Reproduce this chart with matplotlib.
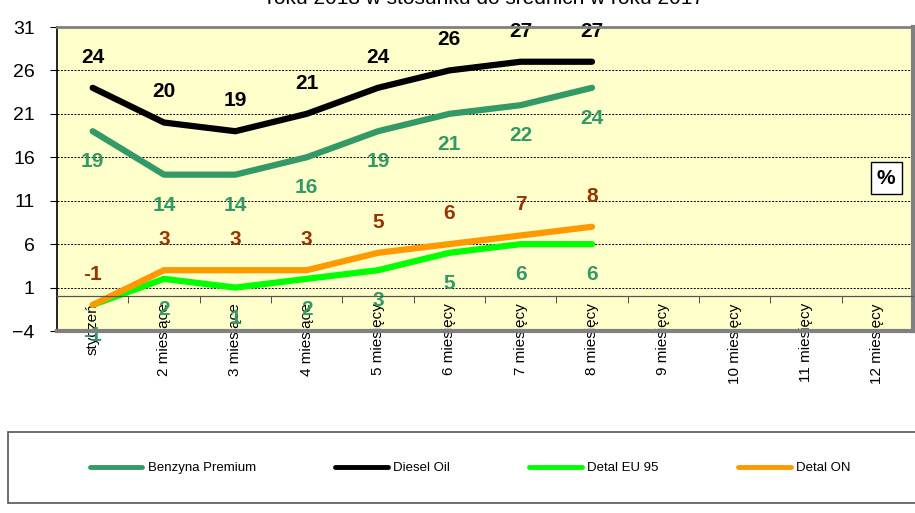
import matplotlib
matplotlib.use("Agg")
import matplotlib.pyplot as plt
from matplotlib.patches import Rectangle

plt.rcParams['font.family'] = ['Liberation Sans', 'DejaVu Sans']

months = ["styczeń", "2 miesiące", "3 miesiące", "4 miesiące", "5 miesięcy", "6 miesięcy",
          "7 miesięcy", "8 miesięcy", "9 miesięcy", "10 miesięcy", "11 miesięcy", "12 miesięcy"]

benzyna_premium = [19, 14, 14, 16, 19, 21, 22, 24]
diesel_oil = [24, 20, 19, 21, 24, 26, 27, 27]
detal_eu95 = [-1, 2, 1, 2, 3, 5, 6, 6]
detal_on = [-1, 3, 3, 3, 5, 6, 7, 8]

y_ticks = [-4, 1, 6, 11, 16, 21, 26, 31]

# name, values, line colour, label colour, label offset (pt)
series = [
    ("Benzyna Premium", benzyna_premium, "#339966", "#339966", -22),
    ("Diesel Oil", diesel_oil, "#000000", "#000000", 22),
    ("Detal EU 95", detal_eu95, "#00FF00", "#339966", -22),
    ("Detal ON", detal_on, "#FF9900", "#993300", 22),
]

fig = plt.figure(figsize=(9.15, 5.13), dpi=100)
ax = fig.add_axes([57/915, 1-331/513, 856/915, 304/513])
ax.set_facecolor("#FFFFCC")

handles = []
for name, vals, col, lcol, off in series:
    x = list(range(len(vals)))
    h, = ax.plot(x, vals, color=col, lw=4.5, solid_joinstyle='round',
                 solid_capstyle='round', label=name, zorder=2)
    handles.append(h)
    for xi, v in zip(x, vals):
        ax.annotate(str(v), (xi, v), xytext=(0, off), textcoords='offset points',
                    ha='center', va='center', fontsize=15, fontweight='bold',
                    color=lcol, zorder=2.2, annotation_clip=False)

ax.set_xlim(-0.5, 11.5)
ax.set_ylim(-4, 31)
ax.set_yticks(y_ticks)
ax.tick_params(axis='y', labelsize=14, length=5, direction='out', pad=11)

for yv in y_ticks[1:-1]:
    ax.axhline(yv, color='black', lw=0.7, ls=(0, (2, 1.5)), zorder=1)

ax.spines['bottom'].set_position(('data', 0))
ax.spines['bottom'].set_color('#555555')
ax.spines['bottom'].set_linewidth(0.9)
ax.spines['left'].set_color('black')
ax.spines['left'].set_linewidth(1.2)
ax.spines['top'].set_color('#808080')
ax.spines['top'].set_linewidth(2)
ax.spines['right'].set_color('#808080')
ax.spines['right'].set_linewidth(3)
ax.plot([0, 1], [0, 0], transform=ax.transAxes, color='#808080', lw=3, clip_on=False, zorder=3)

ax.set_xticks(range(12))
ax.set_xticklabels(months, rotation=90, fontsize=11, va='top')
ax.tick_params(axis='x', which='major', length=0, pad=5)
ax.set_xticks([i + 0.5 for i in range(11)], minor=True)
ax.tick_params(axis='x', which='minor', length=5, direction='out', color='#333333')

fig.text(486/915, 1 - 4/513, "roku 2018 w stosunku do średnich w roku 2017",
         ha='center', va='baseline', fontsize=15)

fig.text(886/915, 1 - 178/513, "%", ha='center', va='center', fontsize=15,
         fontweight='bold', bbox=dict(boxstyle='square,pad=0.3', fc='white', ec='black', lw=1))

fig.patches.append(Rectangle((8/915, 1 - 503/513), 925/915, 71/513, transform=fig.transFigure,
                             fc='white', ec='#555555', lw=1.2, figure=fig))

leg = fig.legend(handles=handles, loc='center', bbox_to_anchor=(470/915, 1 - 468/513),
                 ncol=4, frameon=False, fontsize=9.5, handlelength=4.0, handletextpad=0.4,
                 columnspacing=6.0)
for lh in leg.get_lines():
    lh.set_linewidth(3.5)

fig.savefig("out.png", dpi=100)
